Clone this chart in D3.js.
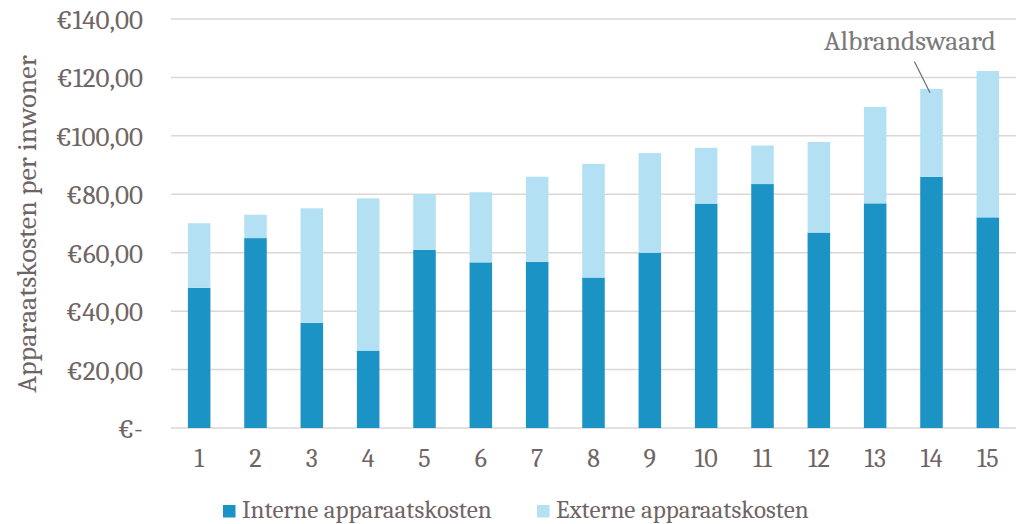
<!DOCTYPE html>
<html><head><meta charset="utf-8">
<script src="https://cdn.jsdelivr.net/npm/d3@7"></script>
<style>body{margin:0;background:#fff}svg{display:block}</style>
</head><body>
<svg id="c" width="1016" height="524"></svg>
<script>
const categories = ["1","2","3","4","5","6","7","8","9","10","11","12","13","14","15"];
const interne = [48, 65, 36, 26.5, 61, 56.7, 56.9, 51.5, 60, 76.8, 83.5, 66.9, 76.9, 86, 72.1];
const externe = [22.1, 8, 39.2, 52.1, 19.1, 24, 29.1, 38.9, 34.1, 19.1, 13.2, 31, 33, 30.1, 50.1];
const yTicks = [0, 20, 40, 60, 80, 100, 120, 140];
const seriesNames = ["Interne apparaatskosten", "Externe apparaatskosten"];
const colors = ["#1B93C5", "#B3E1F3"];
const annotation = {label: "Albrandswaard", index: 13};

const font = "Cambria, Caladea, 'Liberation Serif', serif";
const textCol = "#6f6565";
const svg = d3.select("#c");
const x = d3.scaleBand().domain(categories).range([171, 1016]).paddingInner(0.6).paddingOuter(0.3);
const y = d3.scaleLinear().domain([0, 140]).range([428, 19]);

const fmt = v => v === 0 ? "€-" : "€" + d3.format(".2f")(v).replace(".", ",");

// gridlines
svg.append("g").selectAll("line").data(yTicks).join("line")
  .attr("x1", 171).attr("x2", 1016)
  .attr("y1", d => y(d)).attr("y2", d => y(d))
  .attr("stroke", "#dcd6d6").attr("stroke-width", 1.5);

// y axis
const yAxis = svg.append("g").attr("transform", "translate(143,0)")
  .call(d3.axisLeft(y).tickValues(yTicks).tickFormat(fmt).tickSize(0).tickPadding(0));
yAxis.select(".domain").remove();
yAxis.selectAll("text").attr("font-family", font).attr("font-size", 27).attr("fill", textCol).attr("dy", "0.35em");

// x axis
const xAxis = svg.append("g").attr("transform", "translate(0,0)")
  .call(d3.axisBottom(x).tickSize(0).tickPadding(0));
xAxis.select(".domain").remove();
xAxis.selectAll("text").attr("font-family", font).attr("font-size", 26).attr("fill", textCol)
  .attr("y", 467).attr("dy", null);

// stacked bars
const rows = categories.map((c, i) => ({cat: c, interne: interne[i], externe: externe[i]}));
const stack = d3.stack().keys(["interne", "externe"])(rows);
svg.append("g").selectAll("g").data(stack).join("g")
  .attr("fill", (d, i) => colors[i])
  .selectAll("rect").data(d => d).join("rect")
  .attr("x", d => x(d.data.cat)).attr("width", x.bandwidth())
  .attr("y", d => y(d[1])).attr("height", d => y(d[0]) - y(d[1]));

// y title
svg.append("text").attr("transform", "translate(36,224) rotate(-90)")
  .attr("text-anchor", "middle").attr("font-family", font).attr("font-size", 28)
  .attr("fill", textCol).text("Apparaatskosten per inwoner");

// annotation
const ai = annotation.index;
const ax = x(categories[ai]) + x.bandwidth() / 2;
const aTop = y(interne[ai] + externe[ai]);
svg.append("line").attr("x1", ax - 17).attr("y1", aTop - 27).attr("x2", ax - 1.5).attr("y2", aTop + 4)
  .attr("stroke", "#6f6f6f").attr("stroke-width", 1.2);
svg.append("text").attr("x", 910).attr("y", 50).attr("text-anchor", "middle")
  .attr("font-family", font).attr("font-size", 27.5).attr("fill", "#7a7a7a").text(annotation.label);

// legend
const lg = svg.append("g");
const lx = [223, 537];
seriesNames.forEach((n, i) => {
  lg.append("rect").attr("x", lx[i]).attr("y", 505).attr("width", 12.5).attr("height", 12.5).attr("fill", colors[i]);
  lg.append("text").attr("x", lx[i] + 19).attr("y", 518).attr("font-family", font).attr("font-size", 25)
    .attr("fill", textCol).text(n);
});
</script>
</body></html>
